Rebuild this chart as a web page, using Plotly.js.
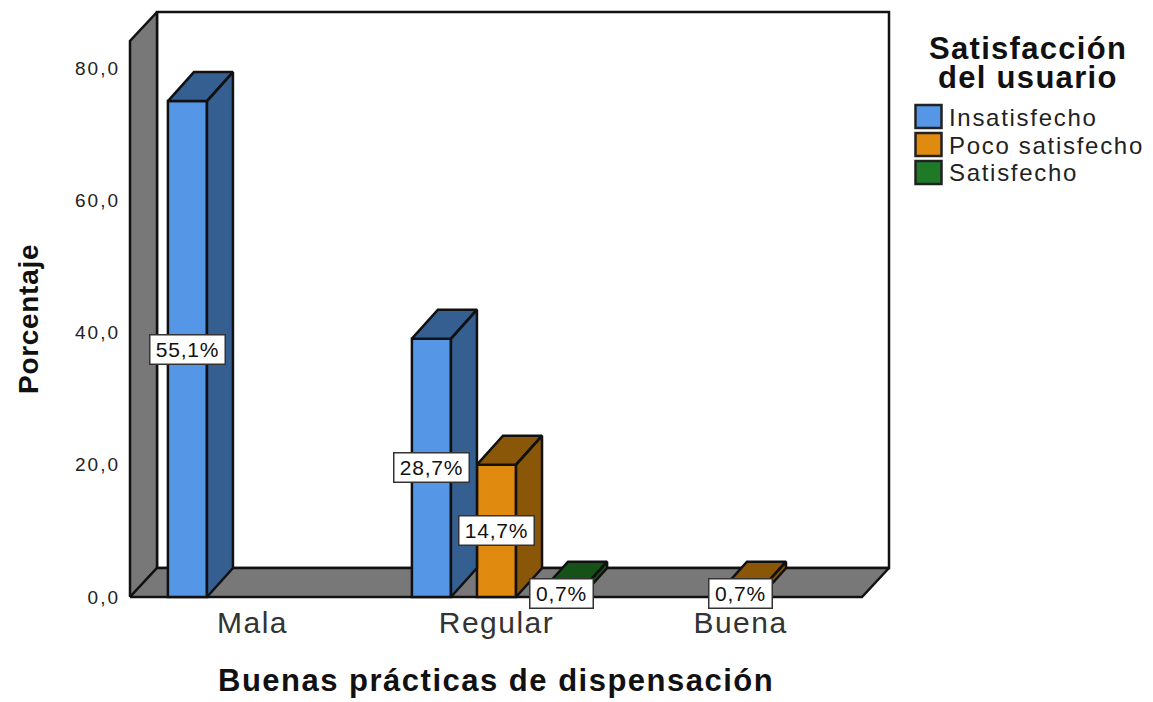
<!DOCTYPE html>
<html>
<head>
<meta charset="utf-8">
<script src="https://cdn.plot.ly/plotly-3.0.1.min.js"></script>
<style>
  html, body { margin: 0; padding: 0; background: #fff; }
  #chart { width: 1153px; height: 702px; }
  .ytick text { letter-spacing: 2px; }
  .xtick text { letter-spacing: 1.5px; }
</style>
</head>
<body>
<div id="chart"></div>
<script>
// Survey results: percentage of users by practice rating and satisfaction level
const categories = ["Mala", "Regular", "Buena"];
const seriesNames = ["Insatisfecho", "Poco satisfecho", "Satisfecho"];
const insatisfecho = [55.1, 28.7, null];
const pocoSatisfecho = [null, 14.7, 0.7];
const satisfecho = [null, 0.7, null];
const axisTicks = [0, 20, 40, 60, 80];
const axisTickText = ["0,0", "20,0", "40,0", "60,0", "80,0"];

// Colours: front face, depth face
const frontColors = ["#5596e6", "#e18a10", "#1f7a28"];
const depthColors = ["#355f91", "#8a5708", "#165218"];
const edge = "#111111";
const wallGrey = "#787878";

// Frame geometry, with a small band around it so outer edges are not clipped
const W = 1153, H = 702, band = 8;
const frameL = 130, frameR = 889, frameT = 12, frameB = 597;
const plotL = frameL - band, plotR = frameR + band, plotT = frameT - band, plotB = frameB + band;
const pxPerCategory = 244, firstCategoryPx = 252.5;
const pxPerUnit = 529 / 80;
const percentPerAxisUnit = 55.1 / 75;   // the drawn axis runs on a base other than the labelled percentages

const xAt = px => (px - firstCategoryPx) / pxPerCategory;
const yAt = py => (frameB - py) / pxPerUnit;
const xRange = [xAt(plotL), xAt(plotR)];
const yRange = [yAt(plotB), yAt(plotT)];
const y2Range = yRange.map(v => v * percentPerAxisUnit);

// Perspective offset of the box and of each column
const wallDx = 27 / pxPerCategory, wallDy = 29 / pxPerUnit;
const barDx = 26 / pxPerCategory, barDy = 29 / pxPerUnit * percentPerAxisUnit;

// Column grouping
const bargap = 0.2, groupgap = 0.4;
const slot = (1 - bargap) / seriesNames.length;
const barHalf = slot * (1 - groupgap) / 2;

const lx = xAt(frameL), rx = xAt(frameR), topY = yAt(frameT);

function wall(xs, ys, fill) {
  return {
    type: "scatter", mode: "lines", x: xs, y: ys, fill: "toself", fillcolor: fill,
    line: { color: edge, width: 2.5 }, xaxis: "x", yaxis: "y",
    hoverinfo: "skip", showlegend: false
  };
}

const traces = [
  // Back wall, side wall, floor
  wall([lx + wallDx, rx, rx, lx + wallDx, lx + wallDx], [wallDy, wallDy, topY, topY, wallDy], "#ffffff"),
  wall([lx, lx + wallDx, lx + wallDx, lx, lx], [0, wallDy, topY, topY - wallDy, 0], wallGrey),
  wall([lx, rx - wallDx, rx, lx + wallDx, lx], [0, 0, wallDy, wallDy, 0], wallGrey)
];

const seriesValues = [insatisfecho, pocoSatisfecho, satisfecho];
const annotations = [];
const fmt = v => v.toFixed(1).replace(".", ",") + "%";

seriesValues.forEach((vals, s) => {
  // Front faces
  traces.push({
    type: "bar", name: seriesNames[s], x: categories.map((_, i) => i), y: vals,
    xaxis: "x", yaxis: "y2",
    marker: { color: frontColors[s], line: { color: edge, width: 2.5 } },
    showlegend: false, hovertemplate: "%{y:.1f}%<extra>" + seriesNames[s] + "</extra>"
  });
});

seriesValues.forEach((vals, s) => {
  // Side and top faces, one polygon pair per column
  const px = [], py = [];
  vals.forEach((v, i) => {
    if (v === null) return;
    const cx = i + (s - (seriesNames.length - 1) / 2) * slot;
    const a = cx - barHalf, b = cx + barHalf;
    px.push(b, b + barDx, b + barDx, b, b, null, a, a + barDx, b + barDx, b, a, null);
    py.push(0, barDy, v + barDy, v, 0, null, v, v + barDy, v + barDy, v, v, null);
    const label = fmt(v);
    annotations.push({
      x: cx, y: v / 2, xref: "x", yref: "y2", showarrow: false,
      text: "<span style='letter-spacing:0.8px'>" + label + "</span>",
      width: 12 * label.length + 12, height: 26,
      bgcolor: "#ffffff", bordercolor: "#333333", borderwidth: 1.5, borderpad: 1,
      font: { family: "Liberation Sans", size: 21, color: "#111" }
    });
  });
  traces.push({
    type: "scatter", mode: "lines", x: px, y: py, fill: "toself", fillcolor: depthColors[s],
    line: { color: edge, width: 2.5 }, xaxis: "x", yaxis: "y2",
    hoverinfo: "skip", showlegend: false
  });
});

// Text and swatches placed on the page outside the frame
const fx = px => (px - plotL) / (plotR - plotL);
const fy = py => (plotB - py) / (plotB - plotT);
const pageText = (text, cx, cy, size, weight, color, anchor, extra) => Object.assign({
  xref: "paper", yref: "paper", x: fx(cx), y: fy(cy), xanchor: anchor, yanchor: "middle",
  showarrow: false, text: text, font: { family: "Liberation Sans", size: size, color: color, weight: weight }
}, extra || {});
const spaced = (t, s) => "<span style='letter-spacing:" + s + "px'>" + t + "</span>";

const swatchTops = [105, 133, 161];
const shapes = swatchTops.map((t, i) => ({
  type: "rect", xref: "paper", yref: "paper", layer: "above",
  x0: fx(915.5), x1: fx(941.5), y0: fy(t), y1: fy(t + 23),
  fillcolor: frontColors[i], line: { color: "#222", width: 2.5 }
}));
seriesNames.forEach((n, i) => annotations.push(
  pageText(spaced(n, 1.7), 947, swatchTops[i] + 12, 24, "normal", "#222", "left")));
annotations.push(pageText(spaced("Satisfacción", 1.3), 1028, 48, 31, "bold", "#111", "center", { height: 28 }));
annotations.push(pageText(spaced("del usuario", 1.3), 1028, 77, 31, "bold", "#111", "center", { height: 28 }));
annotations.push(pageText(spaced("Buenas prácticas de dispensación", 1.5), 496, 681, 31, "bold", "#111", "center"));
annotations.push(pageText(spaced("Porcentaje", 0.7), 28, 319, 28, "bold", "#111", "center", { textangle: -90 }));

const layout = {
  width: W, height: H, paper_bgcolor: "#fff", plot_bgcolor: "rgba(0,0,0,0)",
  margin: { l: plotL, r: W - plotR, t: plotT, b: H - plotB, pad: 0 },
  showlegend: false, barmode: "group", bargap: bargap, bargroupgap: groupgap,
  xaxis: {
    range: xRange, tickmode: "array", tickvals: categories.map((_, i) => i), ticktext: categories,
    showgrid: false, zeroline: false, showline: false, ticks: "", ticklabelstandoff: -3,
    tickfont: { family: "Liberation Sans", size: 30, color: "#333" }
  },
  yaxis: {
    range: yRange, tickmode: "array", tickvals: axisTicks, ticktext: axisTickText,
    showgrid: false, zeroline: false, showline: false, ticks: "", ticklabelstandoff: 1,
    tickfont: { family: "Liberation Sans", size: 19, color: "#222" }
  },
  yaxis2: { overlaying: "y", range: y2Range, visible: false, fixedrange: true },
  shapes: shapes, annotations: annotations
};

Plotly.newPlot("chart", traces, layout, { displayModeBar: false, staticPlot: true });
</script>
</body>
</html>
